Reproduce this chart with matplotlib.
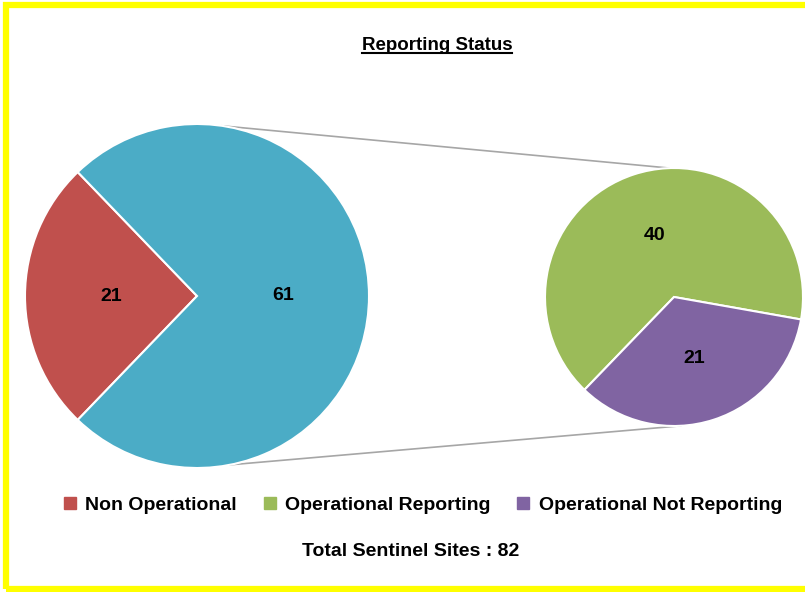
import matplotlib.pyplot as plt
from matplotlib.patches import Rectangle
from matplotlib.lines import Line2D
import numpy as np

plt.rcParams['font.family'] = ['Liberation Sans', 'DejaVu Sans']

# data
categories = ['Non Operational', 'Operational Reporting', 'Operational Not Reporting']
non_operational = 21
operational_reporting = 40
operational_not_reporting = 21
operational = operational_reporting + operational_not_reporting
total = non_operational + operational

colors = ['#C0504D', '#9BBB59', '#8064A2']
blue = '#4BACC6'

fig = plt.figure(figsize=(8.05, 5.92), dpi=100)
ax = fig.add_axes([0, 0, 1, 1])

# left pie: non operational vs operational
c1, r1 = (197, 296), 172
start1 = 180 - 0.5 * 360 * non_operational / total
ax.pie([non_operational, operational], colors=[colors[0], blue],
       startangle=start1, center=c1, radius=r1,
       autopct=lambda p: '%d' % round(p * total / 100), pctdistance=0.5,
       wedgeprops=dict(edgecolor='white', linewidth=1.5),
       textprops=dict(fontsize=14, fontweight='bold', color='black'),
       frame=True)

# right pie: split of operational
c2, r2 = (674, 295), 129
start2 = -72 + 0.5 * 360 * operational_not_reporting / operational
ax.pie([operational_reporting, operational_not_reporting], colors=colors[1:],
       startangle=start2, center=c2, radius=r2,
       autopct=lambda p: '%d' % round(p * operational / 100), pctdistance=0.5,
       wedgeprops=dict(edgecolor='white', linewidth=1.5),
       textprops=dict(fontsize=14, fontweight='bold', color='black'),
       frame=True)
ax.set_xlim(0, 805)
ax.set_ylim(0, 592)
ax.set_aspect('equal')
ax.axis('off')

# connector lines
for a1, a2 in [(81.6, 92), (-79, -87)]:
    p1 = (c1[0] + r1 * np.cos(np.radians(a1)), c1[1] + r1 * np.sin(np.radians(a1)))
    p2 = (c2[0] + r2 * np.cos(np.radians(a2)), c2[1] + r2 * np.sin(np.radians(a2)))
    ax.plot([p1[0], p2[0]], [p1[1], p2[1]], color='#A6A6A6', lw=1.2, zorder=0)

# title with underline
title = fig.text(437 / 805, 1 - 45 / 592, 'Reporting Status', ha='center', va='center',
                 fontsize=13.5, fontweight='bold')

# legend
handles = [Line2D([], [], marker='s', linestyle='none', markersize=8, color=c) for c in colors]
fig.legend(handles, categories, loc='center', bbox_to_anchor=(422 / 805, 1 - 505 / 592),
           ncol=3, frameon=False, prop=dict(weight='bold', size=14),
           handletextpad=0.38, columnspacing=1.3, handlelength=0.8)

fig.text(411 / 805, 1 - 552 / 592, 'Total Sentinel Sites : %d' % total, ha='center',
         va='center', fontsize=14, fontweight='bold')

# yellow frame
fig.patches.append(Rectangle((6 / 805, 3 / 592), 1.2, 1 - 8 / 592, transform=fig.transFigure,
                             fill=False, edgecolor='#FFFF00', linewidth=4.5))

fig.canvas.draw()
bb = title.get_window_extent()
x0, x1 = bb.x0 / 805, bb.x1 / 805
yb = (bb.y0 + 1) / 592
fig.add_artist(Line2D([x0, x1], [yb, yb], transform=fig.transFigure, color='black', lw=1.5))

fig.savefig('out.png', dpi=100)
